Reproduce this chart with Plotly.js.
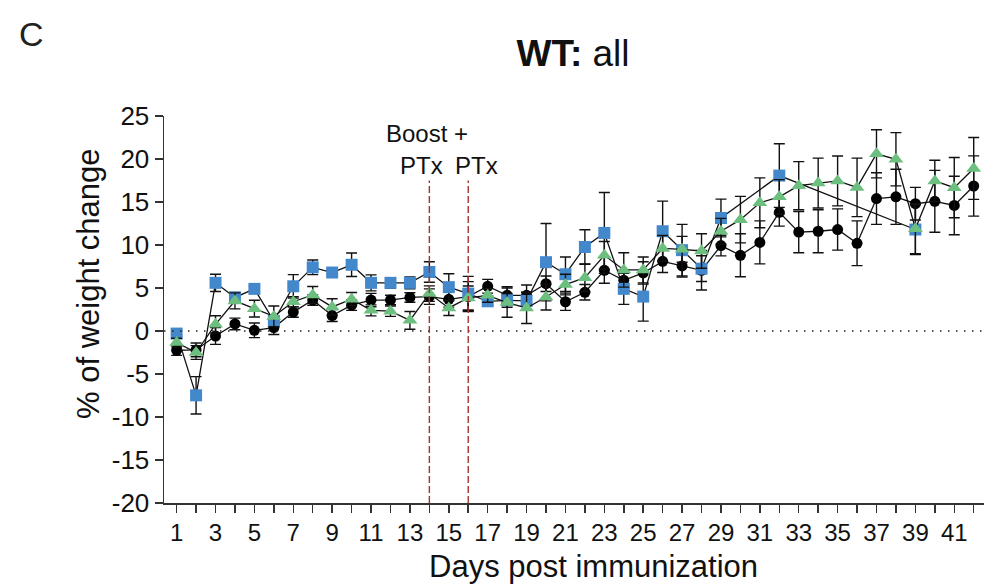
<!DOCTYPE html>
<html>
<head>
<meta charset="utf-8">
<script src="https://cdn.plot.ly/plotly-3.0.1.min.js"></script>
<style>html,body{margin:0;padding:0;background:#fff;}#chart{width:984px;height:584px;}</style>
</head>
<body>
<div id="chart"></div>
<script>
// ---- data ----
const days = [1,2,3,4,5,6,7,8,9,10,11,12,13,14,15,16,17,18,19,20,21,22,23,24,25,26,27,28,29,30,31,32,33,34,35,36,37,38,39,40,41,42];

const blackMean = [-2.24,-2.2,-0.58,0.82,0.08,0.4,2.2,3.6,1.8,3.0,3.6,3.6,3.9,4.0,3.68,4.0,5.2,4.15,4.15,5.5,3.4,4.5,7.06,5.9,6.75,8.1,7.56,7.06,9.93,8.8,10.3,13.8,11.5,11.6,11.8,10.2,15.4,15.6,14.8,15.08,14.6,16.86];
const blackErr  = [0.6,0.8,0.97,0.68,0.85,0.8,0.6,0.6,0.7,0.6,0.78,0.55,0.55,0.9,0.9,1.74,0.8,1.0,1.2,0.9,1.0,0.9,1.5,1.2,1.3,1.3,1.3,2.3,1.2,2.5,2.5,1.6,2.4,2.5,2.4,2.6,3.0,3.2,1.9,3.6,3.4,3.5];

const greenMean = [-1.35,-2.5,0.78,3.5,2.6,1.7,3.4,4.2,2.8,3.7,2.4,2.3,1.24,4.35,2.68,3.84,4.15,3.3,2.68,3.95,5.4,6.2,8.8,7.1,7.1,9.6,9.5,9.3,11.6,12.95,14.9,15.6,16.9,17.2,17.45,16.7,20.6,19.97,11.9,17.45,16.67,18.9];
const greenErr  = [0.5,0.8,1.0,0.93,0.97,1.2,0.6,0.97,0.95,0.78,0.64,0.6,1.03,0.9,0.87,1.4,0.8,1.7,1.8,1.5,1.2,1.6,1.6,2.0,1.5,1.5,1.5,2.0,1.5,2.7,2.9,2.0,2.8,2.9,2.9,3.4,2.8,3.1,2.9,2.4,3.5,3.6];

const blueDays = [1,2,3,4,5,6,7,8,9,10,11,12,13,14,15,16,17,18,19,20,21,22,23,24,25,26,27,28,29,32,39];
const blueMean = [-0.3,-7.48,5.6,3.9,4.9,1.16,5.2,7.4,6.8,7.7,5.6,5.6,5.6,6.86,5.1,4.35,3.45,3.57,3.5,8.0,6.6,9.77,11.4,4.9,4.0,11.6,9.4,7.25,13.14,18.07,11.8];
const blueErr  = [0.3,2.17,1.0,0.58,0.3,0.5,1.36,0.85,0.3,1.37,0.93,0.6,0.68,1.2,1.55,2.0,0.5,0.8,1.0,4.5,2.0,2.0,4.7,1.8,2.85,3.5,3.0,1.5,2.2,3.7,2.9];

const eventDays = [14, 16];
const xTickVals = days;
const xTickText = days.map(d => (d % 2 === 1 ? String(d) : ''));
const yTickVals = [-20,-15,-10,-5,0,5,10,15,20,25];
const yTickText = ['-20','-15','-10','-5','0','5','10','15','20','25'];

// ---- styling ----
const FONT = 'Liberation Sans, Arial, Helvetica, sans-serif';
const BLUE = '#4488cc';
const GREEN = '#6cbf7f';

function errBar(arr){ return {type:'data', array:arr, visible:true, color:'#111', thickness:1.4, width:5.5}; }

const traces = [
  {x: days, y: blackMean, error_y: errBar(blackErr), mode:'lines+markers', type:'scatter',
   line:{color:'#111', width:1.3}, marker:{symbol:'circle', size:11, color:'#000'}, name:'black'},
  {x: blueDays, y: blueMean, error_y: errBar(blueErr), mode:'lines+markers', type:'scatter',
   line:{color:'#111', width:1.3}, marker:{symbol:'square', size:12, color:BLUE}, name:'blue'},
  {x: days, y: greenMean, error_y: errBar(greenErr), mode:'lines+markers', type:'scatter',
   line:{color:'#111', width:1.3}, marker:{symbol:'triangle-up', size:13, color:GREEN}, name:'green'}
];

const L = 164, T = 116, W = 984, H = 584, B = 81;
const pw = W - L, ph = H - T - B;
const px = p => (p - L) / pw;
const py = p => (H - B - p) / ph;

const shapes = [
  {type:'line', xref:'paper', yref:'y', x0:0, x1:1, y0:0, y1:0, line:{color:'#222', width:1.5, dash:'1.5px,6.5px'}},
];
eventDays.forEach(d => shapes.push({type:'line', xref:'x', yref:'y', x0:d, x1:d, y0:-20, y1:17.5,
  line:{color:'#a5322f', width:1.4, dash:'7px,3px'}}));

const annotations = [
  {text:'C', xref:'paper', yref:'paper', x:px(31), y:py(34), xanchor:'center', yanchor:'middle', showarrow:false, font:{family:FONT, size:34, color:'#222'}},
  {text:'Boost +', xref:'x', yref:'y', x:13.88, y:23.0, xanchor:'center', yanchor:'middle', showarrow:false, borderpad:0, font:{family:FONT, size:24, color:'#111'}},
  {text:'PTx', xref:'x', yref:'y', x:13.57, y:19.3, xanchor:'center', yanchor:'middle', showarrow:false, borderpad:0, font:{family:FONT, size:24, color:'#111'}},
  {text:'PTx', xref:'x', yref:'y', x:16.45, y:19.3, xanchor:'center', yanchor:'middle', showarrow:false, borderpad:0, font:{family:FONT, size:24, color:'#111'}},
  {text:'Days post immunization', xref:'paper', yref:'paper', x:px(593), y:py(566), xanchor:'center', yanchor:'middle', showarrow:false, font:{family:FONT, size:31, color:'#111'}},
  {text:'% of weight change', xref:'paper', yref:'paper', x:px(88), y:py(284), xanchor:'center', yanchor:'middle', textangle:-90, showarrow:false, font:{family:FONT, size:31, color:'#111'}}
];

const layout = {
  width: W, height: H,
  margin: {l:L, r:0, t:T, b:B, pad:0},
  paper_bgcolor:'#fff', plot_bgcolor:'#fff',
  showlegend:false,
  font:{family:FONT, color:'#111'},
  title:{text:'<b>WT:</b> all', x:px(573), xref:'paper', xanchor:'center', y:1-53/H, yref:'container', yanchor:'middle', font:{family:FONT, size:37, color:'#111'}},
  xaxis:{range:[0.35, 42.53], tickmode:'array', tickvals:xTickVals, ticktext:xTickText, ticks:'outside', ticklen:8, tickwidth:1.5, tickcolor:'#333',
         showline:true, linecolor:'#333', linewidth:1.5, showgrid:false, zeroline:false, tickfont:{family:FONT, size:24, color:'#111'}},
  yaxis:{range:[-20, 25], tickmode:'array', tickvals:yTickVals, ticktext:yTickText, ticks:'outside', ticklen:8, tickwidth:1.5, tickcolor:'#333',
         showline:true, linecolor:'#333', linewidth:1.5, showgrid:false, zeroline:false, tickfont:{family:FONT, size:26, color:'#111'}},
  shapes: shapes,
  annotations: annotations
};

Plotly.newPlot('chart', traces, layout, {displayModeBar:false, staticPlot:true});
</script>
</body>
</html>
